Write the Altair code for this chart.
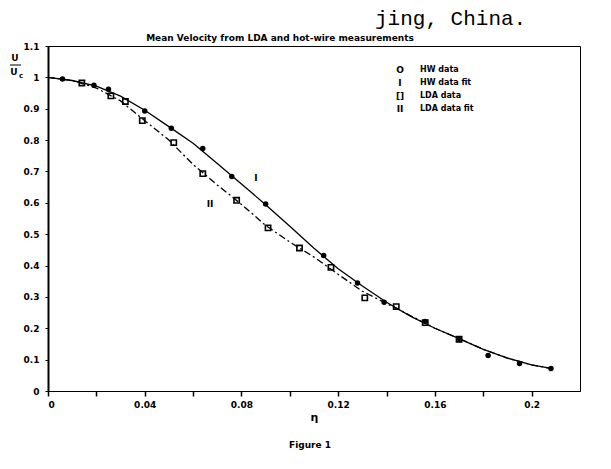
import altair as alt
import pandas as pd

# ---- data ----
hw_x = [0.006, 0.019, 0.025, 0.040, 0.051, 0.064, 0.076, 0.090, 0.114, 0.128,
        0.139, 0.156, 0.170, 0.182, 0.195, 0.208]
hw_y = [0.995, 0.975, 0.962, 0.893, 0.838, 0.773, 0.684, 0.596, 0.432, 0.344,
        0.283, 0.222, 0.167, 0.113, 0.088, 0.072]

lda_x = [0.014, 0.026, 0.032, 0.039, 0.052, 0.064, 0.078, 0.091, 0.104, 0.117,
         0.131, 0.144, 0.156, 0.170]
lda_y = [0.982, 0.941, 0.923, 0.862, 0.792, 0.693, 0.608, 0.520, 0.456, 0.394,
         0.297, 0.269, 0.218, 0.165]

fit_x = [0.0, 0.01, 0.02, 0.03, 0.04, 0.05, 0.06, 0.07, 0.08, 0.09, 0.10,
         0.11, 0.12, 0.13, 0.14, 0.15, 0.16, 0.17, 0.18, 0.19, 0.20, 0.208]
hw_fit_y = [1.0, 0.99, 0.972, 0.94, 0.895, 0.843, 0.79, 0.725, 0.66, 0.594, 0.525,
            0.455, 0.39, 0.335, 0.283, 0.238, 0.2, 0.167, 0.133, 0.105, 0.083, 0.072]
lda_fit_y = [1.0, 0.99, 0.966, 0.925, 0.862, 0.80, 0.722, 0.657, 0.595, 0.528, 0.475,
             0.427, 0.372, 0.318, 0.279, 0.240, 0.200, 0.167, 0.133, 0.105, 0.083, 0.072]

curve_label_text = ["I", "II"]
curve_label_x = [0.086, 0.067]
curve_label_y = [0.678, 0.595]

x_tick_values = [0, 0.02, 0.04, 0.06, 0.08, 0.10, 0.12, 0.14, 0.16, 0.18, 0.20]
y_tick_values = [0, 0.1, 0.2, 0.3, 0.4, 0.5, 0.6, 0.7, 0.8, 0.9, 1.0, 1.1]

legend_symbols = ["O", "I", "[]", "II"]
legend_labels = ["HW data", "HW data fit", "LDA data", "LDA data fit"]

title_text = "Mean Velocity from LDA and hot-wire measurements"
caption_text = "Figure 1"
page_text = "jing, China."

# ---- layout ----
W, H = 532, 345
FONT = "DejaVu Sans"

hw_df = pd.DataFrame({"x": hw_x, "y": hw_y})
lda_df = pd.DataFrame({"x": lda_x, "y": lda_y})
hw_fit_df = pd.DataFrame({"x": fit_x, "y": hw_fit_y})
lda_fit_df = pd.DataFrame({"x": fit_x, "y": lda_fit_y})
lab_df = pd.DataFrame({"x": curve_label_x, "y": curve_label_y, "t": curve_label_text})

xs = alt.Scale(domain=[0, 0.22], nice=False, zero=False)
ys = alt.Scale(domain=[0, 1.1], nice=False, zero=False)

x_axis = alt.Axis(
    values=x_tick_values,
    labelExpr="(round(datum.value*100) % 4 == 0) ? format(datum.value, '~g') : ''",
    title="η", titleFont=FONT, titleFontSize=11, titleFontWeight="bold",
    titlePadding=2, grid=False, domainColor="black", domainWidth=1.2,
    tickColor="black", tickSize=5, tickWidth=1.5,
    labelFont=FONT, labelFontSize=9, labelFontWeight="bold", labelColor="black",
    labelPadding=4, labelOverlap=False,
)
y_axis = alt.Axis(
    values=y_tick_values, labelExpr="format(datum.value, '~g')",
    title=None, grid=False, domainColor="black", domainWidth=2,
    tickColor="black", tickSize=3, tickWidth=1,
    labelFont=FONT, labelFontSize=9, labelFontWeight="bold", labelColor="black",
    labelPadding=6, labelOverlap=False,
)

X = alt.X("x:Q", scale=xs, axis=x_axis)
Y = alt.Y("y:Q", scale=ys, axis=y_axis)

hw_fit = alt.Chart(hw_fit_df).mark_line(color="black", strokeWidth=1.3).encode(x=X, y=Y)
lda_fit = alt.Chart(lda_fit_df).mark_line(
    color="black", strokeWidth=1.3, strokeDash=[7, 3, 2, 3]
).encode(x=X, y=Y)
hw_pts = alt.Chart(hw_df).mark_point(
    shape="circle", filled=True, color="black", size=30, opacity=1
).encode(x=X, y=Y)
lda_pts = alt.Chart(lda_df).mark_point(
    shape="square", filled=False, color="black", size=28, strokeWidth=1.6, opacity=1
).encode(x=X, y=Y)
curve_labels = alt.Chart(lab_df).mark_text(
    font=FONT, fontSize=9, fontWeight="bold", color="black", align="center", baseline="middle"
).encode(x=X, y=Y, text="t:N")

layers = [hw_fit, lda_fit, hw_pts, lda_pts, curve_labels]

# legend (text symbols as in the original)
for i, (s, l) in enumerate(zip(legend_symbols, legend_labels)):
    d = pd.DataFrame({"s": [s], "l": [l]})
    layers.append(alt.Chart(d).mark_text(
        font=FONT, fontSize=9, fontWeight="bold", color="black", align="center", baseline="middle"
    ).encode(x=alt.value(352), y=alt.value(24 + i * 13), text="s:N"))
    layers.append(alt.Chart(d).mark_text(
        font=FONT, fontSize=8, fontWeight="bold", color="black", align="left", baseline="middle"
    ).encode(x=alt.value(372), y=alt.value(24 + i * 13), text="l:N"))

# y-axis label U / U_c
def small_text(t, x, y, size=9, align="center"):
    return alt.Chart(pd.DataFrame({"t": [t]})).mark_text(
        font=FONT, fontSize=size, fontWeight="bold", color="black", align=align, baseline="middle"
    ).encode(x=alt.value(x), y=alt.value(y), text="t:N")

layers.append(small_text("U", -33, 12))
layers.append(alt.Chart(pd.DataFrame({"t": ["U"]})).mark_rule(color="black", strokeWidth=1).encode(
    x=alt.value(-38), x2=alt.value(-27), y=alt.value(19)))
layers.append(small_text("U", -34, 26))
layers.append(small_text("c", -27, 30, size=7))

# title, caption, page fragment
layers.append(alt.Chart(pd.DataFrame({"t": [title_text]})).mark_text(
    font=FONT, fontSize=9, fontWeight="bold", color="black", align="center", baseline="alphabetic"
).encode(x=alt.value(232), y=alt.value(-5), text="t:N"))
layers.append(small_text(caption_text, 262, H + 54))
layers.append(alt.Chart(pd.DataFrame({"t": [page_text]})).mark_text(
    font="Liberation Mono", fontSize=21, color="black", align="left", baseline="alphabetic"
).encode(x=alt.value(327), y=alt.value(-21), text="t:N"))

chart = alt.layer(*layers).properties(
    width=W, height=H,
    autosize=alt.AutoSizeParams(type="none"),
    padding={"left": 40, "top": 38, "right": 23, "bottom": 70},
    background="white",
).configure_view(stroke="black", strokeWidth=1)

chart.save("out.html", embed_options={"renderer": "svg", "actions": False})
